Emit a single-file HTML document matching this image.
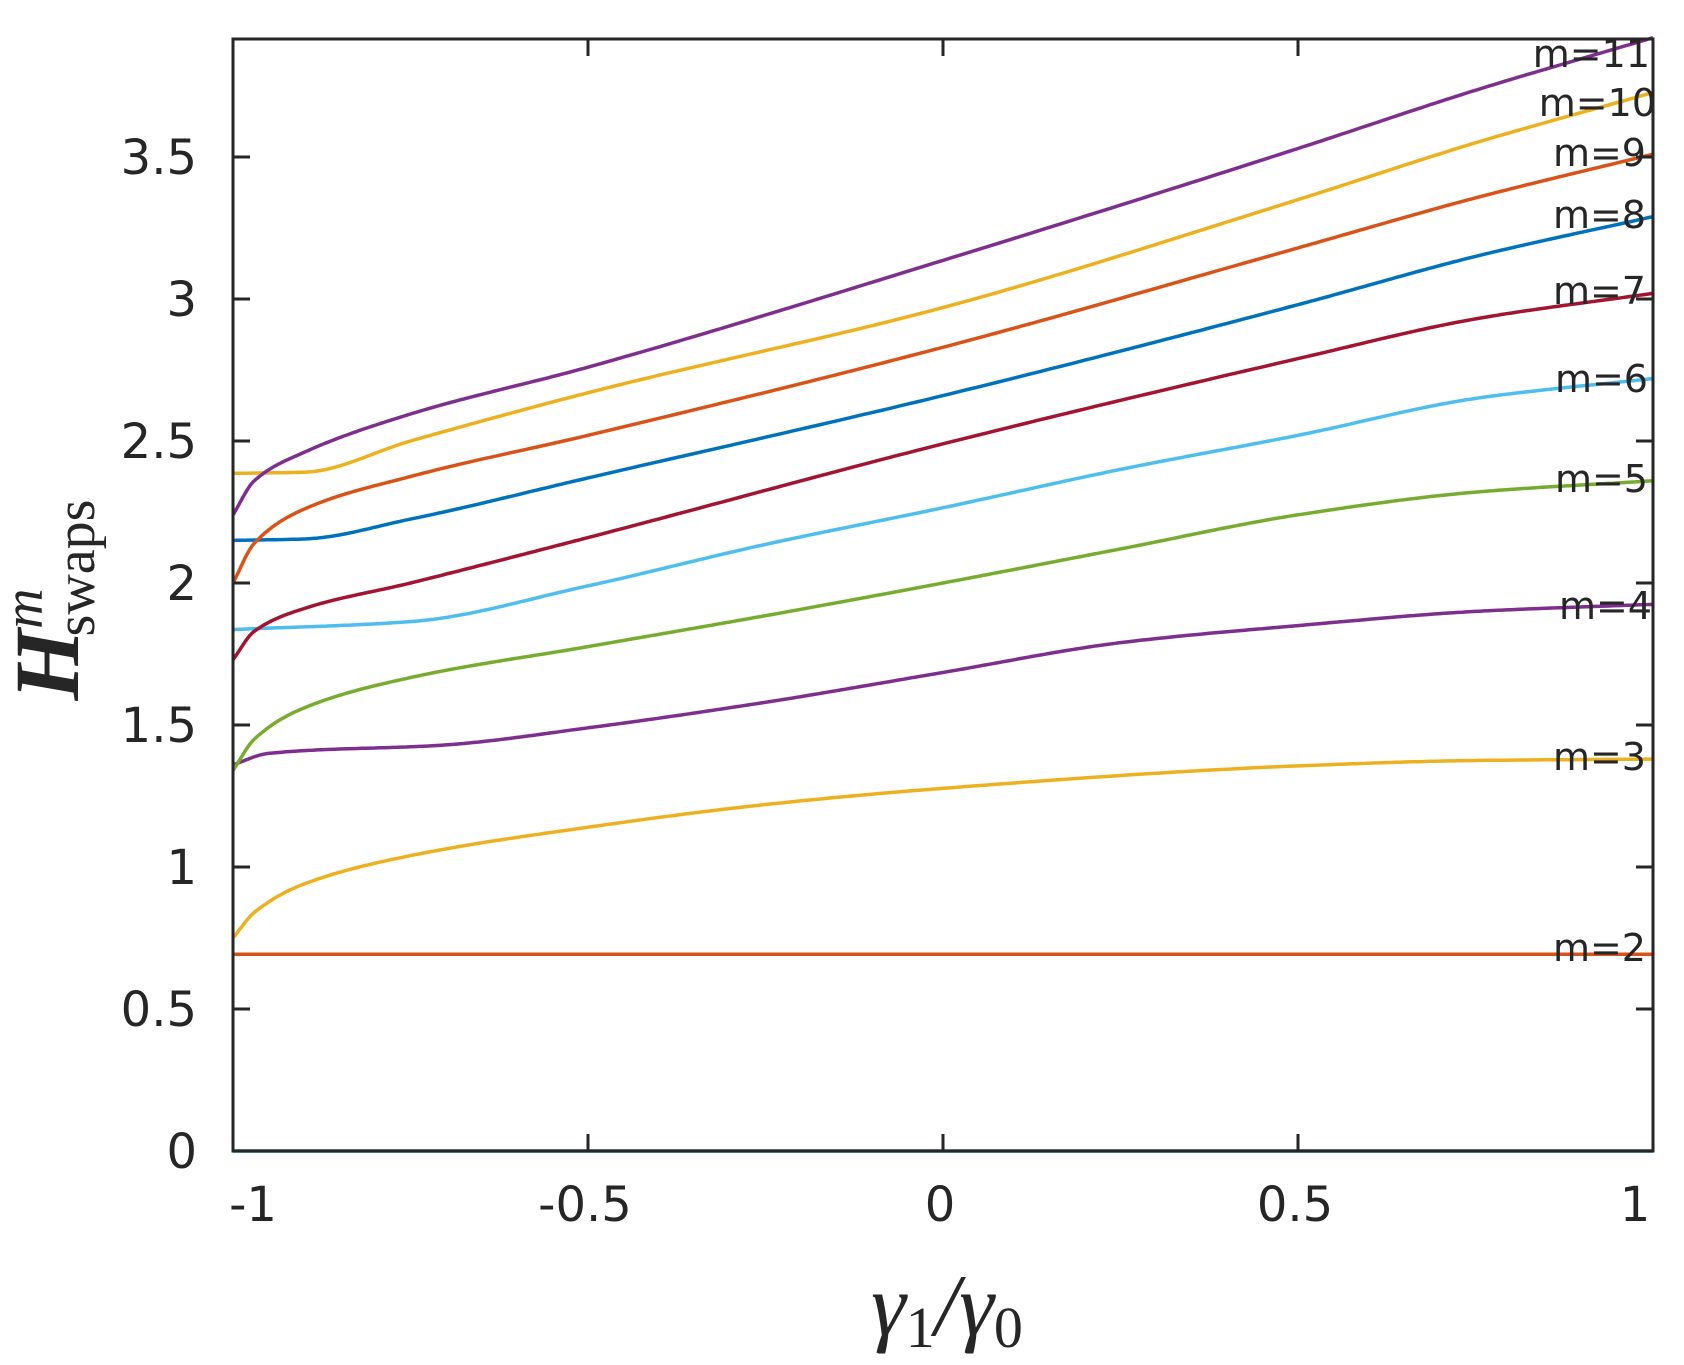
<!DOCTYPE html>
<html><head><meta charset="utf-8"><style>
body{margin:0;background:#fff}
svg{display:block}
text{font-family:"DejaVu Sans","Liberation Sans",sans-serif;fill:#262626}
</style></head><body>
<svg id="s" width="1684" height="1365" viewBox="0 0 1684 1365" xmlns="http://www.w3.org/2000/svg">
<rect width="1684" height="1365" fill="#fff"/>
<g id="curves" fill="none" stroke-width="3.5" stroke-linejoin="round"></g>
<rect x="233" y="39" width="1420" height="1112" fill="none" stroke="#262626" stroke-width="3"/>
<g id="ticks" stroke="#262626" stroke-width="3"></g>
<g id="labels" font-size="48"></g>
<g font-size="38" text-anchor="end">
<text x="1650" y="67">m=11</text>
<text x="1656" y="116">m=10</text>
<text x="1646" y="166">m=9</text>
<text x="1646" y="228">m=8</text>
<text x="1646" y="304">m=7</text>
<text x="1648" y="392">m=6</text>
<text x="1648" y="492">m=5</text>
<text x="1652" y="619">m=4</text>
<text x="1646" y="770">m=3</text>
<text x="1646" y="961">m=2</text>
</g>
<text x="947" y="1335" text-anchor="middle" font-size="88" style="font-family:'Liberation Serif',serif;font-style:italic">γ<tspan font-size="58" dy="12" font-style="normal">1</tspan><tspan dy="-12" font-size="88">/γ</tspan><tspan font-size="58" dy="12" font-style="normal">0</tspan></text>
<g transform="translate(78,600) rotate(-90)">
<text x="0" y="0" text-anchor="middle" font-size="92" style="font-family:'Liberation Serif',serif;font-style:italic;font-weight:bold">H<tspan font-size="56" dy="-36" font-weight="normal">m</tspan><tspan font-size="56" dx="-48" dy="52" font-style="normal" font-weight="normal">swaps</tspan></text>
</g>
</svg>
<script>
const X=v=>233+(v+1)*710, Y=v=>1151-v*284;
const C=["#0072BD","#D95319","#EDB120","#7E2F8E","#77AC30","#4DBEEE","#A2142F"];
const D=[
 [[-1,0],[1,0]],
 [[-1,0.693],[1,0.693]],
 [[-1,0.75],[-0.97,0.84],[-0.9,0.94],[-0.75,1.04],[-0.5,1.14],[-0.25,1.22],[0,1.277],[0.5,1.356],[0.75,1.375],[1,1.38]],
 [[-1,1.36],[-0.95,1.40],[-0.7,1.43],[-0.5,1.49],[-0.25,1.58],[0,1.685],[0.25,1.79],[0.5,1.85],[0.75,1.90],[1,1.925]],
 [[-1,1.34],[-0.97,1.45],[-0.9,1.56],[-0.75,1.667],[-0.5,1.776],[-0.25,1.885],[0,2.0],[0.25,2.12],[0.5,2.24],[0.75,2.32],[1,2.36]],
 [[-1,1.836],[-0.75,1.864],[-0.5,1.99],[-0.25,2.136],[0,2.265],[0.25,2.40],[0.5,2.52],[0.75,2.65],[1,2.72]],
 [[-1,1.73],[-0.97,1.83],[-0.9,1.91],[-0.75,2.0],[-0.5,2.16],[0,2.49],[0.5,2.79],[0.75,2.93],[1,3.02]],
 [[-1,2.15],[-0.9,2.155],[-0.75,2.225],[-0.5,2.37],[0,2.66],[0.5,2.98],[0.75,3.15],[1,3.29]],
 [[-1,2.0],[-0.97,2.14],[-0.9,2.26],[-0.75,2.375],[-0.5,2.52],[0,2.83],[0.5,3.18],[0.75,3.356],[1,3.51]],
 [[-1,2.386],[-0.9,2.39],[-0.75,2.5],[-0.5,2.67],[0,2.97],[0.5,3.35],[0.75,3.55],[1,3.727]],
 [[-1,2.24],[-0.97,2.36],[-0.9,2.46],[-0.75,2.595],[-0.5,2.76],[0,3.136],[0.5,3.53],[0.75,3.735],[1,3.92]]
];
function mono(d){
 const n=d.length,x=d.map(p=>p[0]),y=d.map(p=>p[1]);
 if(n<3)return d;
 const h=[],s=[];for(let i=0;i<n-1;i++){h[i]=x[i+1]-x[i];s[i]=(y[i+1]-y[i])/h[i];}
 const m=[s[0]];
 for(let i=1;i<n-1;i++){ if(s[i-1]*s[i]<=0)m[i]=0; else{const w1=2*h[i]+h[i-1],w2=h[i]+2*h[i-1];m[i]=(w1+w2)/(w1/s[i-1]+w2/s[i]);}}
 m[n-1]=s[n-2];
 const out=[];
 for(let i=0;i<n-1;i++){for(let k=0;k<40;k++){const t=k/40,t2=t*t,t3=t2*t;
  const v=(2*t3-3*t2+1)*y[i]+(t3-2*t2+t)*h[i]*m[i]+(-2*t3+3*t2)*y[i+1]+(t3-t2)*h[i]*m[i+1];
  out.push([x[i]+t*h[i],v]);}}
 out.push(d[n-1]);return out;
}
let h='';
D.forEach((d,i)=>{
 const p=mono(d).map(q=>X(q[0]).toFixed(1)+','+Y(q[1]).toFixed(1));
 h+='<polyline points="'+p.join(' ')+'" stroke="'+C[i%7]+'"/>';
});
document.getElementById('curves').innerHTML=h;
let t='',l='';
[0,0.5,1,1.5,2,2.5,3,3.5].forEach(v=>{const y=Y(v);t+=`<line x1="233" y1="${y}" x2="250" y2="${y}"/><line x1="1653" y1="${y}" x2="1636" y2="${y}"/>`;
 l+=`<text x="197" y="${y+17}" text-anchor="end">${v}</text>`;});
const off={"-1":20,"1":-18};
[-1,-0.5,0,0.5,1].forEach(v=>{const x=X(v);t+=`<line x1="${x}" y1="1151" x2="${x}" y2="1134"/><line x1="${x}" y1="39" x2="${x}" y2="56"/>`;
 l+=`<text x="${x+(off[v]||-3)}" y="1221" text-anchor="middle">${v}</text>`;});
document.getElementById('ticks').innerHTML=t;
document.getElementById('labels').innerHTML=l;
</script>
</body></html>
